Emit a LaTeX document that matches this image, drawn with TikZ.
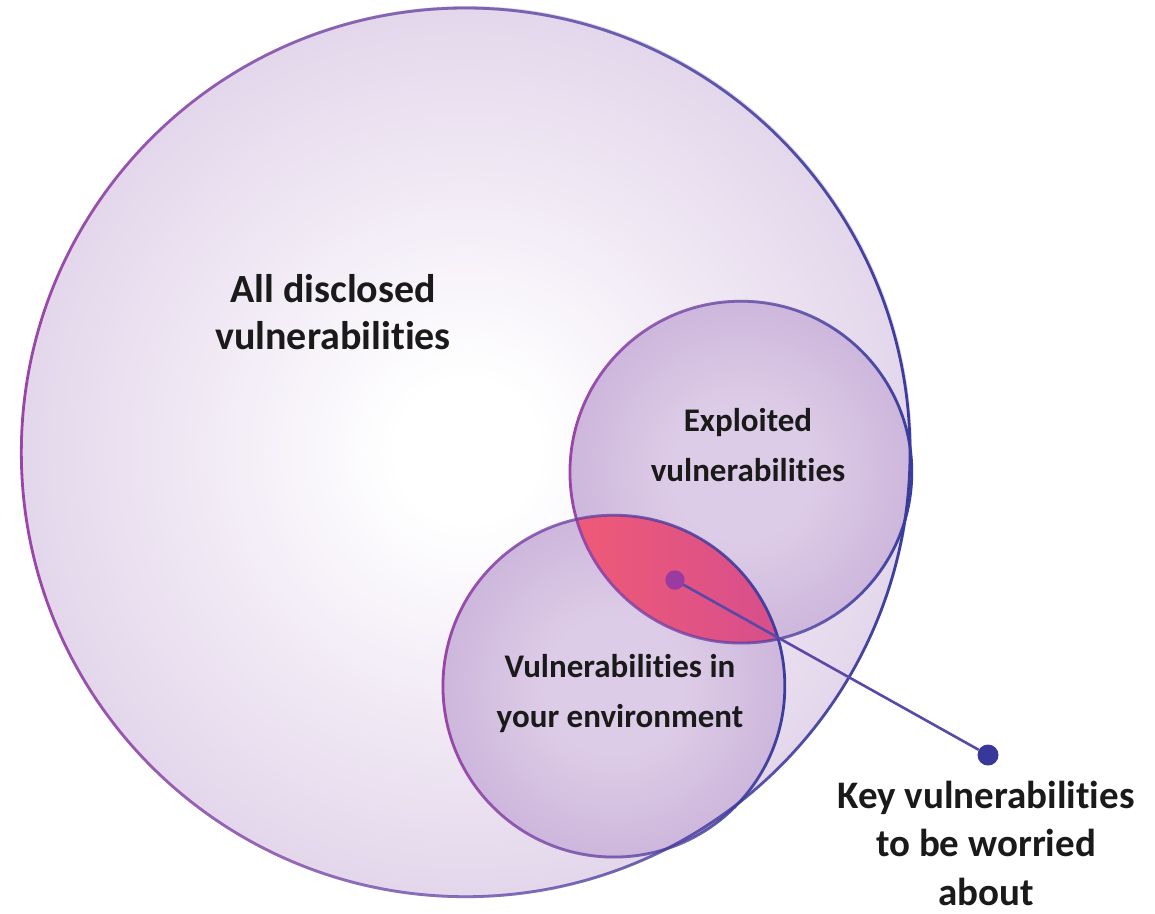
\documentclass[tikz,border=0pt]{standalone}
\usepackage{fontspec}
\setmainfont{Carlito}[Ligatures=NoCommon, Contextuals=NoAlternate]
\usetikzlibrary{fadings}
\definecolor{bigedge}{HTML}{CDB9DC}
\definecolor{bigmid}{HTML}{DDCDE7}
\definecolor{smallin}{HTML}{DDCCE7}
\definecolor{smallmid}{HTML}{C2A7D4}
\definecolor{smallout}{HTML}{A07DBE}
\definecolor{strokeL}{HTML}{9A45A8}
\definecolor{strokeR}{HTML}{3A3C9C}
\definecolor{lensL}{HTML}{EF5A76}
\definecolor{lensR}{HTML}{D64E8C}
\definecolor{dotmag}{HTML}{9B3AA0}
\definecolor{dotnavy}{HTML}{37389A}
\definecolor{linkc}{HTML}{5A48A8}
\definecolor{txt}{HTML}{1A1A1A}
\pgfdeclareradialshading{bigshade}{\pgfpoint{0bp}{0bp}}{color(0bp)=(white); color(4bp)=(white); color(30bp)=(bigmid); color(50bp)=(bigedge)}
\pgfdeclareradialshading{smallshade}{\pgfpoint{0bp}{0bp}}{color(0bp)=(smallin); color(10bp)=(smallin); color(36bp)=(smallmid); color(50bp)=(smallout)}
\tikzfading[name=fadeleft, left color=transparent!100, right color=transparent!0]
\tikzfading[name=faderight, left color=transparent!0, right color=transparent!100]
\tikzset{
  ring/.style={circle, inner sep=0pt, draw=none},
  outline/.style={line width=2.8pt},
  lbl/.style={align=center, text=txt, inner sep=0pt},
}
\begin{document}
\begin{tikzpicture}[x=1pt, y=-1pt]
\useasboundingbox (0,0) rectangle (1155,913);
% big circle
\node[ring, minimum size=890pt, shading=bigshade] (all) at (467,451) {};
% small circles fill
\node[ring, minimum size=342pt, shading=smallshade] (expl) at (741,472) {};
\node[ring, minimum size=342pt, shading=smallshade] (env) at (614,686) {};
% lens
\begin{scope}
  \clip (expl.center) circle (171pt);
  \clip (env.center) circle (171pt);
  \shade[left color=lensL, right color=lensR] (570,510) rectangle (785,645);
\end{scope}
% outlines
\foreach \c/\r in {all/445, expl/171, env/171}{
  \draw[outline, strokeL, path fading=faderight] (\c.center) circle (\r pt);
  \draw[outline, strokeR, path fading=fadeleft] (\c.center) circle (\r pt);
}
% connector
\node[circle, fill=dotmag, inner sep=0pt, minimum size=19pt] (d1) at (675,580) {};
\node[circle, fill=dotnavy, inner sep=0pt, minimum size=21pt] (d2) at (988,755) {};
\draw[linkc, line width=2.6pt] (d1.center) -- (d2);
\node[circle, fill=dotmag, inner sep=0pt, minimum size=19pt] at (d1) {};
% labels
\node[lbl, font=\bfseries\fontsize{40}{47}\selectfont] (tall) at (333,312) {All disclosed\\vulnerabilities};
\node[lbl, font=\bfseries\fontsize{33}{50}\selectfont] (texpl) at (748,445) {Exploited\\vulnerabilities};
\node[lbl, font=\bfseries\fontsize{33}{50}\selectfont] (tenv) at (620,694) {Vulnerabilities in\\your environment};
\node[lbl, font=\bfseries\fontsize{39}{48.5}\selectfont] (tkey) at (986,843) {Key vulnerabilities\\to be worried\\about};
\end{tikzpicture}
\end{document}
